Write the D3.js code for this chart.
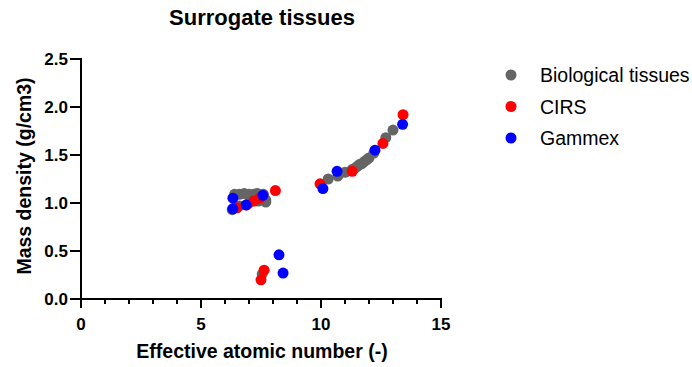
<!DOCTYPE html>
<html>
<head>
<meta charset="utf-8">
<script src="https://cdn.jsdelivr.net/npm/d3@7"></script>
<style>
  body { margin: 0; background: #fff; }
  svg { font-family: Arial, 'Liberation Sans', sans-serif; }
</style>
</head>
<body>
<div id="chart"></div>
<script>
const seriesNames = ['Biological tissues', 'CIRS', 'Gammex']
const seriesColors = ['#656565', '#ff0000', '#0000ff']

// [effective Z, density]
const biological = [
  [6.4, 1.09], [6.6, 1.09], [6.8, 1.1], [7.0, 1.09], [7.2, 1.09], [7.35, 1.1],
  [7.5, 1.08], [7.6, 1.05], [7.7, 1.01], [7.7, 1.03], [6.3, 0.93], [6.6, 0.97],
  [7.0, 1.0], [7.4, 1.02], [7.6, 1.09], [7.55, 0.26],
  [10.3, 1.25], [10.7, 1.28], [11.0, 1.32], [11.3, 1.35], [11.4, 1.36], [11.5, 1.38],
  [11.6, 1.4], [11.7, 1.41], [11.8, 1.43], [11.9, 1.45], [12.0, 1.47], [12.2, 1.52],
  [12.7, 1.68], [13.0, 1.76]
]
const cirs = [
  [6.5, 0.95], [6.9, 0.98], [7.2, 1.02], [7.45, 1.05], [8.1, 1.13],
  [7.5, 0.2], [7.63, 0.3],
  [9.96, 1.2], [11.3, 1.33], [12.58, 1.62], [13.42, 1.92]
]
const gammex = [
  [6.33, 1.05], [6.33, 0.94], [6.88, 0.98], [7.58, 1.08],
  [8.25, 0.46], [8.42, 0.27],
  [10.08, 1.15], [10.67, 1.33], [12.25, 1.55], [13.4, 1.82]
]

const xTicks = [0, 5, 10, 15]
const yTicks = [0, 0.5, 1.0, 1.5, 2.0, 2.5]

const W = 692, H = 367
const svg = d3.select('#chart').append('svg').attr('width', W).attr('height', H)

const x = d3.scaleLinear().domain([0, 15]).range([81, 441])
const y = d3.scaleLinear().domain([0, 2.5]).range([299, 59])

// title
svg.append('text')
  .attr('x', 262).attr('y', 25)
  .attr('text-anchor', 'middle')
  .style('font-size', '22px').style('font-weight', 'bold')
  .text('Surrogate tissues')

// x axis
const gx = svg.append('g')
gx.append('line').attr('x1', x(0)).attr('x2', x(15) + 1).attr('y1', y(0)).attr('y2', y(0))
  .attr('stroke', '#000').attr('stroke-width', 2)
gx.selectAll('line.minor').data(d3.range(0, 16)).join('line')
  .attr('class', 'minor')
  .attr('x1', d => x(d)).attr('x2', d => x(d))
  .attr('y1', y(0)).attr('y2', d => y(0) + (d % 5 === 0 ? 9 : 5))
  .attr('stroke', '#000').attr('stroke-width', 2)
gx.selectAll('text').data(xTicks).join('text')
  .attr('x', d => x(d)).attr('y', y(0) + 31)
  .attr('text-anchor', 'middle')
  .style('font-size', '17px').style('font-weight', 'bold')
  .text(d => d)

// y axis
const gy = svg.append('g')
gy.append('line').attr('x1', x(0)).attr('x2', x(0)).attr('y1', y(2.5) - 1).attr('y2', y(0) + 9)
  .attr('stroke', '#000').attr('stroke-width', 2)
gy.selectAll('line.tick').data(yTicks).join('line')
  .attr('class', 'tick')
  .attr('x1', x(0) - 11).attr('x2', x(0))
  .attr('y1', d => y(d)).attr('y2', d => y(d))
  .attr('stroke', '#000').attr('stroke-width', 2)
gy.selectAll('text').data(yTicks).join('text')
  .attr('x', x(0) - 13).attr('y', d => y(d))
  .attr('dy', '0.36em')
  .attr('text-anchor', 'end')
  .style('font-size', '17px').style('font-weight', 'bold')
  .text(d => d3.format('.1f')(d))

// axis titles
svg.append('text')
  .attr('x', 262).attr('y', 358)
  .attr('text-anchor', 'middle')
  .style('font-size', '19.5px').style('font-weight', 'bold')
  .text('Effective atomic number (-)')
svg.append('text')
  .attr('transform', `translate(31,${(y(0) + y(2.5)) / 2 - 3}) rotate(-90)`)
  .attr('text-anchor', 'middle')
  .style('font-size', '19.5px').style('font-weight', 'bold')
  .text('Mass density (g/cm3)')

// points
const allSeries = [biological, cirs, gammex]
allSeries.forEach((pts, i) => {
  svg.append('g').selectAll('circle').data(pts).join('circle')
    .attr('cx', d => x(d[0])).attr('cy', d => y(d[1]))
    .attr('r', 5.5)
    .attr('fill', seriesColors[i])
})

// legend
const lg = svg.append('g')
seriesNames.forEach((name, i) => {
  const ly = 75 + i * 31.5
  lg.append('circle').attr('cx', 511).attr('cy', ly).attr('r', 5.5).attr('fill', seriesColors[i])
  lg.append('text').attr('x', 540).attr('y', ly).attr('dy', '0.36em')
    .style('font-size', '19.5px')
    .text(name)
})
</script>
</body>
</html>
